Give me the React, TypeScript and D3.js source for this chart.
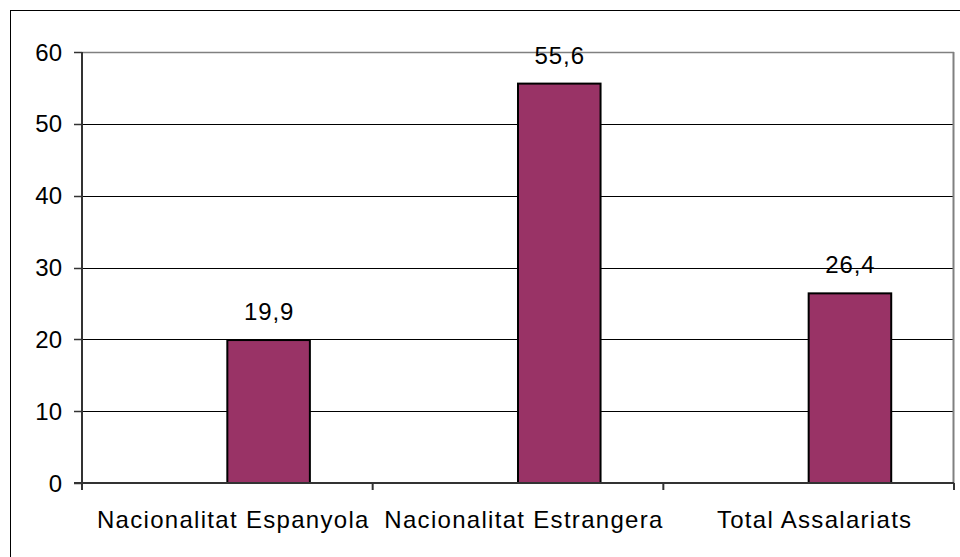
import React from "react";
import * as d3 from "d3";

const categories = ["Nacionalitat Espanyola", "Nacionalitat Estrangera", "Total Assalariats"];
const values = [19.9, 55.6, 26.4];
const yTicks = [0, 10, 20, 30, 40, 50, 60];

const W = 960;
const H = 557;
const left = 82;
const right = 954;
const top = 52;
const bottom = 483;
const font = "Arial, 'Liberation Sans', sans-serif";
const fs = 24;

export default function App() {
  const x = d3.scaleBand<string>().domain(categories).range([left, right]).paddingInner(0).paddingOuter(0);
  const y = d3.scaleLinear().domain([0, 60]).range([bottom, top]);
  const bw = x.bandwidth();
  const barW = bw * 0.284;
  const fmt = (v: number) => v.toFixed(1).replace(".", ",");

  return (
    <svg width={W} height={H} style={{ position: "absolute", left: 0, top: 0, background: "#fff" }}>
      <rect x={10.5} y={10.5} width={W + 20} height={H + 20} fill="#fff" stroke="#000" strokeWidth={1} />
      {yTicks.filter((t) => t > 0).map((t) => (
        <line key={"g" + t} x1={left} x2={right} y1={Math.round(y(t)) + 0.5} y2={Math.round(y(t)) + 0.5} stroke="#000" strokeWidth={1} />
      ))}
      <line x1={left} x2={right} y1={top + 0.5} y2={top + 0.5} stroke="#808080" strokeWidth={1.5} />
      <line x1={right - 0.5} x2={right - 0.5} y1={top} y2={bottom} stroke="#808080" strokeWidth={2} />
      {categories.map((c, i) => {
        const cx = (x(c) as number) + bw / 2;
        const yt = y(values[i]);
        return (
          <g key={c}>
            <rect x={cx} y={yt} width={barW} height={bottom - yt} fill="#993366" stroke="#000" strokeWidth={2} />
            <text x={cx + barW / 2 + 0.5} y={yt - 20} textAnchor="middle" fontFamily={font} fontSize={fs} letterSpacing={0.9} fill="#000">
              {fmt(values[i])}
            </text>
            <text x={cx + 6} y={528} textAnchor="middle" fontFamily={font} fontSize={fs} letterSpacing={1.3} fill="#000">
              {c}
            </text>
          </g>
        );
      })}
      <line x1={left} x2={left} y1={top} y2={bottom + 7} stroke="#333" strokeWidth={2} />
      <line x1={left - 8} x2={right} y1={bottom} y2={bottom} stroke="#333" strokeWidth={2} />
      {yTicks.map((t) => (
        <g key={"t" + t}>
          <line x1={left - 8} x2={left} y1={Math.round(y(t)) + 0.5} y2={Math.round(y(t)) + 0.5} stroke="#333" strokeWidth={1.5} />
          <text x={left - 20} y={y(t) + 8.5} textAnchor="end" fontFamily={font} fontSize={fs} fill="#000">
            {t}
          </text>
        </g>
      ))}
      {categories.map((c) => {
        const xr = (x(c) as number) + bw;
        return <line key={"xt" + c} x1={xr} x2={xr} y1={bottom} y2={bottom + 7} stroke="#333" strokeWidth={2} />;
      })}
    </svg>
  );
}
